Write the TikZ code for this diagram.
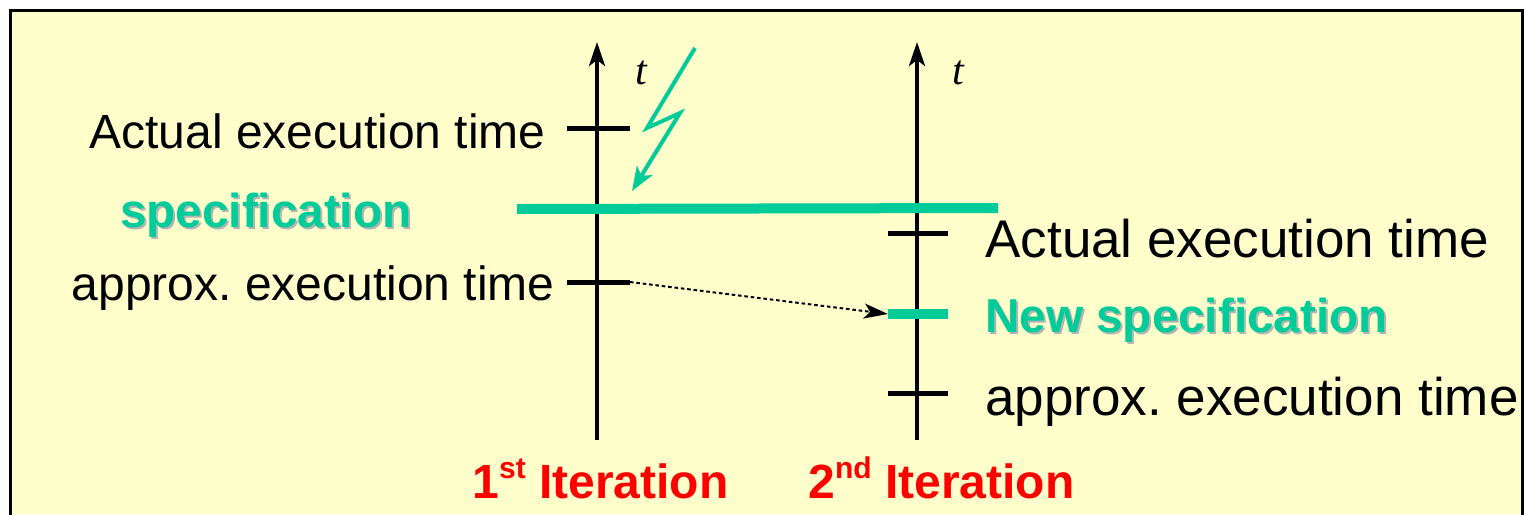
\documentclass[tikz,border=0pt]{standalone}
\usepackage{fontspec}
\setmainfont{Liberation Sans}
\newfontfamily\serifit{Liberation Serif}
\usetikzlibrary{arrows.meta}
\frenchspacing
\definecolor{bg}{HTML}{FFFFCC}
\definecolor{spec}{HTML}{00CC99}
\definecolor{shade}{HTML}{B4B4B4}
\definecolor{iter}{HTML}{FF0000}
\newcommand{\supx}[1]{\raisebox{0.40em}{\fontsize{15}{17}\selectfont #1}}
\tikzset{
  axis/.style={line width=2pt,-{Stealth[length=12pt,width=8pt,inset=3pt]}},
  tick/.style={line width=2.5pt},
  gtick/.style={line width=5pt,spec},
  blacktext/.style={inner sep=0pt,font=\fontsize{24}{28}\selectfont},
  bigtext/.style={inner sep=0pt,font=\fontsize{26.5}{30}\selectfont},
  spectext/.style={inner sep=0pt,font=\fontsize{23.8}{28}\selectfont\bfseries,text=spec},
  spshadow/.style={inner sep=0pt,font=\fontsize{23.8}{28}\selectfont\bfseries,text=shade},
  itertext/.style={inner sep=0pt,font=\fontsize{24}{28}\selectfont\bfseries,text=iter},
  tlabel/.style={inner sep=0pt,font=\fontsize{21}{24}\selectfont\serifit\itshape},
}
\begin{document}
\begin{tikzpicture}[x=0.5pt,y=-0.5pt]
\path[use as bounding box] (0,0) rectangle (1524,514);
\fill[bg] (10,10) rectangle (1522,514);
\draw[line width=1.5pt] (10,530) -- (10,10) -- (1522,10) -- (1522,530);

% axes
\coordinate (a1b) at (597,440); \coordinate (a1t) at (597,42);
\coordinate (a2b) at (917,440); \coordinate (a2t) at (917,42);
\draw[axis] (a1b) -- (a1t);
\draw[axis] (a2b) -- (a2t);
\node[tlabel,anchor=base] (t1) at (641,84) {t};
\node[tlabel,anchor=base] (t2) at (958,84) {t};

% specification line
\coordinate (s1) at (517,209); \coordinate (s2) at (998,208);
\draw[line width=5pt,spec] (s1) -- (s2);

% ticks first iteration
\coordinate (k1a) at (567,128); \coordinate (k1b) at (630,128);
\coordinate (k2a) at (567,282); \coordinate (k2b) at (630,282);
\draw[tick] (k1a) -- (k1b);
\draw[tick] (k2a) -- (k2b);

% ticks second iteration
\coordinate (m1a) at (888,233); \coordinate (m1b) at (948,233);
\coordinate (m2a) at (888,314); \coordinate (m2b) at (948,314);
\coordinate (m3a) at (888,393); \coordinate (m3b) at (948,393);
\draw[tick] (m1a) -- (m1b);
\draw[gtick] (m2a) -- (m2b);
\draw[tick] (m3a) -- (m3b);

% lightning
\coordinate (l0) at (695,48); \coordinate (l1) at (647,128);
\coordinate (l2) at (680,113); \coordinate (l3) at (632,191);
\draw[spec,line width=2pt,line join=miter,-{Stealth[length=12pt,width=9pt,inset=3pt]}] (l0) -- (l1) -- (l2) -- (l3);

% dotted arrow
\draw[line width=1pt,dash pattern=on 1.8pt off 1.4pt,-{Stealth[length=12pt,width=7.5pt,inset=3pt]}] (k2b) -- (m2a);

% texts left
\node[blacktext,anchor=base east] (act1) at (546,148) {Actual execution time};
\node[blacktext,anchor=base east] (apx1) at (555,300) {approx. execution time};
\node[spshadow,anchor=base west] at (122,229) {specification};
\node[spectext,anchor=base west] (spec1) at (120,227) {specification};

% texts right
\node[bigtext,anchor=base west] (act2) at (985,257) {Actual execution time};
\node[spshadow,anchor=base west] at (987,334) {New specification};
\node[spectext,anchor=base west] (spec2) at (985,332) {New specification};
\node[bigtext,anchor=base west] (apx2) at (985,415) {approx. execution time};

% iteration labels
\node[itertext,anchor=base west] (it1) at (472,498) {1\supx{st} Iteration};
\node[itertext,anchor=base west] (it2) at (808,498) {2\supx{nd} Iteration};
\end{tikzpicture}
\end{document}
